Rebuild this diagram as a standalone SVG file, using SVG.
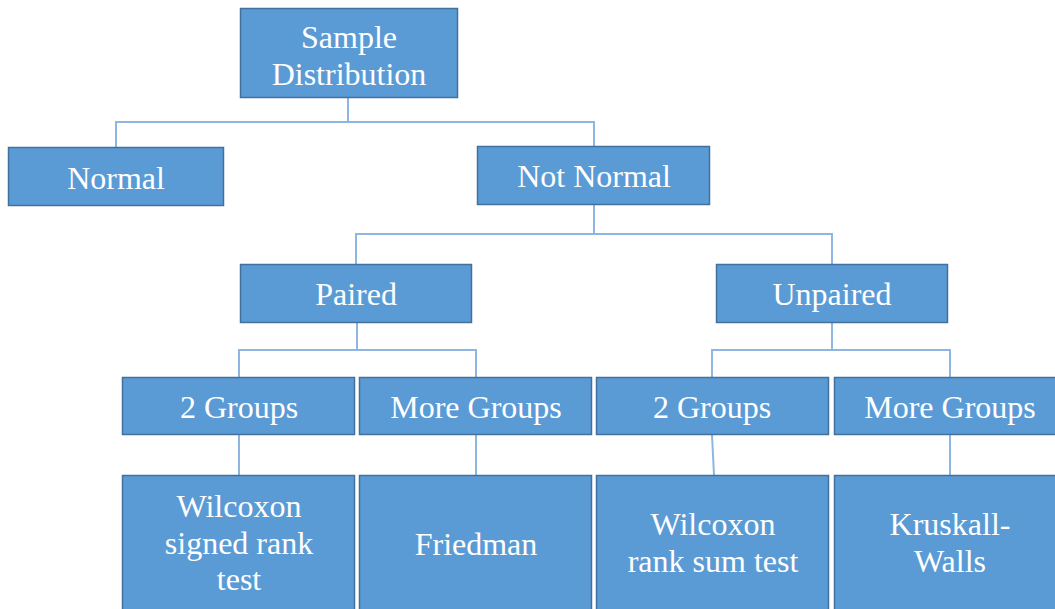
<svg xmlns="http://www.w3.org/2000/svg" width="1055" height="609" viewBox="0 0 1055 609">
<style>
.box{fill:#5B9BD5;stroke:#41719C;stroke-width:1.5}
.t{font-family:"Liberation Serif","Times New Roman",serif;font-size:32px;fill:#FFFFFF;text-anchor:middle}
.c{fill:none;stroke:#8DB7E2;stroke-width:2}
</style>
<rect width="1055" height="609" fill="#FFFFFF"/>
<g id="connectors">
<path class="c" d="M348,98 V122 M116,147 V122 H594 V146"/>
<path class="c" d="M594,205 V234 M356,264 V234 H832 V264"/>
<path class="c" d="M357,323 V350 M239,377 V350 H476 V377"/>
<path class="c" d="M832,323 V350 M712,377 V350 H950 V377"/>
<path class="c" d="M239,435 V475 M476,435 V475 M712,435 L714,475 M950,435 V475"/>
</g>
<g id="sample"><rect class="box" x="240.5" y="8.5" width="217" height="89"/><text class="t" x="349" y="48">Sample</text><text class="t" x="349" y="85">Distribution</text></g>
<g id="normal"><rect class="box" x="8.5" y="147.5" width="215" height="58"/><text class="t" x="116" y="189">Normal</text></g>
<g id="notnormal"><rect class="box" x="477.5" y="146.5" width="232" height="58"/><text class="t" x="594" y="187">Not Normal</text></g>
<g id="paired"><rect class="box" x="240.5" y="264.5" width="231" height="58"/><text class="t" x="356" y="305">Paired</text></g>
<g id="unpaired"><rect class="box" x="716.5" y="264.5" width="231" height="58"/><text class="t" x="832" y="305">Unpaired</text></g>
<g id="p2groups"><rect class="box" x="122.5" y="377.5" width="232" height="57"/><text class="t" x="239" y="418">2 Groups</text></g>
<g id="pmoregroups"><rect class="box" x="359.5" y="377.5" width="232" height="57"/><text class="t" x="476" y="418">More Groups</text></g>
<g id="u2groups"><rect class="box" x="596.5" y="377.5" width="232" height="57"/><text class="t" x="712" y="418">2 Groups</text></g>
<g id="umoregroups"><rect class="box" x="834.5" y="377.5" width="232" height="57"/><text class="t" x="950" y="418">More Groups</text></g>
<g id="wsigned"><rect class="box" x="122.5" y="475.5" width="232" height="140"/><text class="t" x="239" y="517">Wilcoxon</text><text class="t" x="239" y="554">signed rank</text><text class="t" x="239" y="590">test</text></g>
<g id="friedman"><rect class="box" x="359.5" y="475.5" width="232" height="140"/><text class="t" x="476" y="555">Friedman</text></g>
<g id="wranksum"><rect class="box" x="596.5" y="475.5" width="232" height="140"/><text class="t" x="713" y="535">Wilcoxon</text><text class="t" x="713" y="572">rank sum test</text></g>
<g id="kruskal"><rect class="box" x="834.5" y="475.5" width="232" height="140"/><text class="t" x="950" y="535">Kruskall-</text><text class="t" x="950" y="572">Walls</text></g>
</svg>
